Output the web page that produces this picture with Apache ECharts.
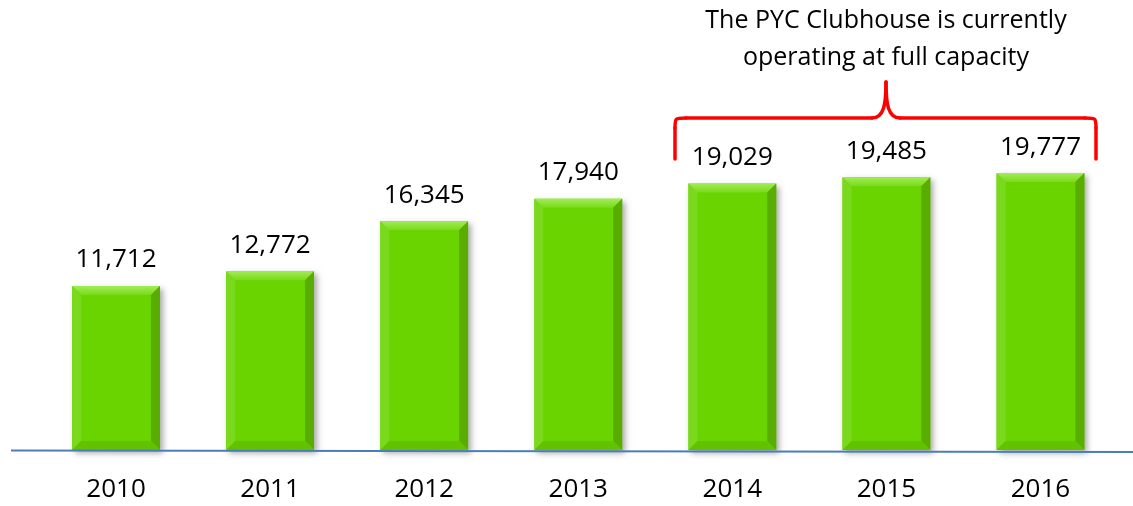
<!DOCTYPE html>
<html>
<head>
<meta charset="utf-8">
<script src="https://cdn.jsdelivr.net/npm/echarts@6/dist/echarts.min.js"></script>
<style>html,body{margin:0;padding:0;background:#fff}#c{width:1133px;height:506px}</style>
</head>
<body>
<div id="c"></div>
<script>
const years = ['2010','2011','2012','2013','2014','2015','2016'];
const visitors = [11712, 12772, 16345, 17940, 19029, 19485, 19777];
const noteLines = ['The PYC Clubhouse is currently', 'operating at full capacity'];

const FONT = '"Open Sans", "Liberation Sans", sans-serif';
const chart = echarts.init(document.getElementById('c'));

function fmt(v){ return v.toLocaleString('en-US'); }

function renderBar(params, api){
  const i = api.value(0), v = api.value(1);
  const top = api.coord([i, v]);
  const base = api.coord([i, 0]);
  const w = api.size([1, 0])[0] * 0.57;
  const x0 = top[0] - w/2, x1 = top[0] + w/2, y0 = top[1], y1 = base[1];
  const b = 9;
  const ix0 = x0 + b, ix1 = x1 - b, iy0 = y0 + b, iy1 = y1 - b;
  return {
    type: 'group',
    children: [
      { type: 'rect', shape: {x: x0, y: y0, width: w, height: y1 - y0},
        style: {fill: '#6ad400', shadowColor: 'rgba(0,0,0,0.35)', shadowBlur: 6, shadowOffsetX: 3, shadowOffsetY: 3} },
      { type: 'polygon', shape: {points: [[x0,y0],[x1,y0],[ix1,iy0],[ix0,iy0]]},
        style: {fill: new echarts.graphic.LinearGradient(0,0,0,1,[{offset:0,color:'#a2ec55'},{offset:1,color:'#78da1a'}])} },
      { type: 'polygon', shape: {points: [[x0,y0],[ix0,iy0],[ix0,iy1],[x0,y1]]},
        style: {fill: '#7ad91c'} },
      { type: 'polygon', shape: {points: [[x1,y0],[x1,y1],[ix1,iy1],[ix1,iy0]]},
        style: {fill: '#58ad00'} },
      { type: 'polygon', shape: {points: [[x0,y1],[ix0,iy1],[ix1,iy1],[x1,y1]]},
        style: {fill: '#62c200'} },
      { type: 'text', style: {text: fmt(v), x: top[0], y: y0 - 13, align: 'center', verticalAlign: 'bottom',
        fill: '#000', font: '26px ' + FONT} }
    ]
  };
}

chart.setOption({
  animation: false,
  grid: {left: 39, right: 15.5, top: 100, bottom: 56},
  xAxis: {
    type: 'category', data: years,
    axisLine: {show: false}, axisTick: {show: false},
    axisLabel: {color: '#000', fontSize: 26, fontFamily: FONT, margin: 27}
  },
  yAxis: {type: 'value', min: 0, max: 25000, show: false, splitLine: {show: false}},
  series: [{
    type: 'custom',
    renderItem: renderBar,
    data: visitors.map((v, i) => [i, v]),
    encode: {x: 0, y: 1},
    z: 2
  }]
});

const yZero = chart.convertToPixel({yAxisIndex: 0}, 0);
const red = {stroke: '#ff0000', lineWidth: 3.5, fill: null, lineCap: 'round'};
chart.setOption({
  graphic: [
    { type: 'line', shape: {x1: 11, y1: yZero + 0.5, x2: 1133, y2: yZero + 2}, style: {stroke: '#4a7ebb', lineWidth: 2}, z: 10 },
    { type: 'line', shape: {x1: 675, y1: 159, x2: 675, y2: 128}, style: red, z: 10 },
    { type: 'bezierCurve', shape: {x1: 675, y1: 128, cpx1: 675, cpy1: 118, cpx2: 675, cpy2: 118, x2: 686, y2: 118}, style: red, z: 10 },
    { type: 'line', shape: {x1: 686, y1: 118, x2: 872, y2: 118}, style: red, z: 10 },
    { type: 'bezierCurve', shape: {x1: 872, y1: 118, cpx1: 884, cpy1: 118, cpx2: 886, cpy2: 104, x2: 886, y2: 82}, style: red, z: 10 },
    { type: 'bezierCurve', shape: {x1: 886, y1: 82, cpx1: 886, cpy1: 104, cpx2: 888, cpy2: 118, x2: 900, y2: 118}, style: red, z: 10 },
    { type: 'line', shape: {x1: 900, y1: 118, x2: 1085, y2: 118}, style: red, z: 10 },
    { type: 'bezierCurve', shape: {x1: 1085, y1: 118, cpx1: 1096, cpy1: 118, cpx2: 1096, cpy2: 118, x2: 1096, y2: 128}, style: red, z: 10 },
    { type: 'line', shape: {x1: 1096, y1: 128, x2: 1096, y2: 159}, style: red, z: 10 },
    { type: 'text', style: {text: noteLines[0], x: 886, y: 21, align: 'center', verticalAlign: 'middle', fill: '#000', font: '25px ' + FONT} },
    { type: 'text', style: {text: noteLines[1], x: 886, y: 58, align: 'center', verticalAlign: 'middle', fill: '#000', font: '25px ' + FONT} }
  ]
});
</script>
</body>
</html>
